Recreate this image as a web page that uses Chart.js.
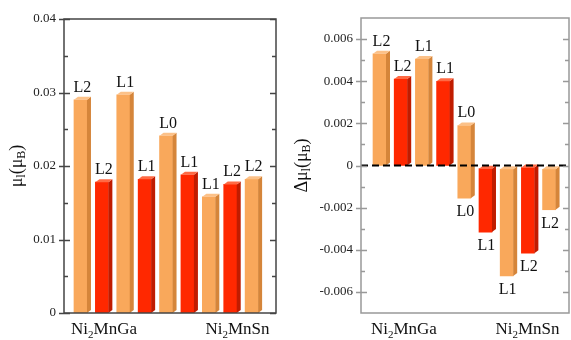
<!DOCTYPE html>
<html>
<head>
<meta charset="utf-8">
<script src="https://cdn.jsdelivr.net/npm/chart.js@4.4.1/dist/chart.umd.min.js"></script>
<style>
  html, body { margin: 0; padding: 0; background: #fff; }
  #wrap { position: relative; width: 571px; height: 340px; }
  canvas { position: absolute; top: 0; }
  #left { left: 0; }
  #right { left: 290px; }
</style>
</head>
<body>
<div id="wrap">
  <canvas id="left" width="290" height="340"></canvas>
  <canvas id="right" width="281" height="340"></canvas>
</div>
<script>
// compounds shown under each panel
const compounds = ["Ni2MnGa", "Ni2MnSn"];

// left panel: moment per site
const leftTags = ["L2", "L2", "L1", "L1", "L0", "L1", "L1", "L2", "L2"];
const leftValues = [0.029, 0.0178, 0.0297, 0.0182, 0.0241, 0.0188, 0.0158, 0.0175, 0.0182];
const leftTicks = [0, 0.01, 0.02, 0.03, 0.04];

// right panel: change of moment, drawn as floating bars [low, high]
const rightTopTags = ["L2", "L2", "L1", "L1", "L0", null, null, null, null];
const rightBottomTags = [null, null, null, null, "L0", "L1", "L1", "L2", "L2"];
const rightLow = [0, 0, 0, 0, -0.00155, -0.00015, -0.00018, -0.0001, -0.00018];
const rightHigh = [0.0053, 0.0041, 0.00505, 0.004, 0.0019, -0.00316, -0.00524, -0.00416, -0.0021];
const rightTicks = [-0.006, -0.004, -0.002, 0, 0.002, 0.004, 0.006];

const SERIF = "'Liberation Serif', 'Times New Roman', serif";
const ORANGE = { front: "#f9a85b", side: "#d5853a", top: "#fcc188" };
const RED = { front: "#ff2800", side: "#c01c00", top: "#ff6a44" };

function kindOf(i) {
  return i % 2 === 0 ? ORANGE : RED;
}

// text runs: [string, isSubscript]
function richRuns(text) {
  return text.split(/(\d)/).filter(Boolean).map(s => [s, /\d/.test(s)]);
}

function drawRich(ctx, runs, x, y, size, subSize, align) {
  const widths = runs.map(([s, sub]) => {
    ctx.font = `${sub ? subSize : size}px ${SERIF}`;
    return ctx.measureText(s).width;
  });
  const total = widths.reduce((a, b) => a + b, 0);
  let cx = align === "center" ? x - total / 2 : x;
  runs.forEach(([s, sub], i) => {
    ctx.font = `${sub ? subSize : size}px ${SERIF}`;
    ctx.fillText(s, cx, sub ? y + size * 0.25 : y);
    cx += widths[i];
  });
}

const decor = {
  id: "decor",
  afterDatasetsDraw(chart, args, opts) {
    const ctx = chart.ctx;
    const meta = chart.getDatasetMeta(0);
    const dx = 4, dy = 3;
    ctx.save();
    // side and top faces of each bar
    meta.data.forEach((bar, i) => {
      const { x, y, base, width } = bar.getProps(["x", "y", "base", "width"], true);
      const l = x - width / 2, r = x + width / 2;
      const top = Math.min(y, base), bottom = Math.max(y, base);
      const c = kindOf(i);
      ctx.fillStyle = c.side;
      ctx.beginPath();
      ctx.moveTo(r, top); ctx.lineTo(r + dx, top - dy);
      ctx.lineTo(r + dx, bottom - dy); ctx.lineTo(r, bottom);
      ctx.closePath(); ctx.fill();
      ctx.fillStyle = c.top;
      ctx.beginPath();
      ctx.moveTo(l, top); ctx.lineTo(l + dx, top - dy);
      ctx.lineTo(r + dx, top - dy); ctx.lineTo(r, top);
      ctx.closePath(); ctx.fill();
    });

    // site tags above / below the bars
    ctx.fillStyle = "#111";
    ctx.font = `16px ${SERIF}`;
    ctx.textAlign = "center";
    ctx.textBaseline = "alphabetic";
    meta.data.forEach((bar, i) => {
      const { x, y, base } = bar.getProps(["x", "y", "base"], true);
      const top = Math.min(y, base), bottom = Math.max(y, base);
      if (opts.topTags && opts.topTags[i]) ctx.fillText(opts.topTags[i], x + 2, top - 8);
      if (opts.bottomTags && opts.bottomTags[i]) ctx.fillText(opts.bottomTags[i], x + 1, bottom + 18);
    });

    // dashed zero line
    if (opts.zeroLine) {
      const a = chart.chartArea;
      const y0 = chart.scales.y.getPixelForValue(0);
      ctx.strokeStyle = "#000";
      ctx.lineWidth = 2;
      ctx.setLineDash([7, 4]);
      ctx.beginPath();
      ctx.moveTo(a.left, y0);
      ctx.lineTo(a.right, y0);
      ctx.stroke();
      ctx.setLineDash([]);
    }
    ctx.restore();
  },
  afterDraw(chart, args, opts) {
    const ctx = chart.ctx;
    const a = chart.chartArea;
    const ys = chart.scales.y;
    const xs = chart.scales.x;
    ctx.save();
    ctx.strokeStyle = opts.frameColor;
    ctx.lineWidth = 1.5;
    ctx.strokeRect(a.left, a.top, a.right - a.left, a.bottom - a.top);

    // major ticks cross the left edge, point inward on the right
    const majors = ys.ticks.map(t => t.value);
    ctx.beginPath();
    majors.forEach(v => {
      const p = Math.round(ys.getPixelForValue(v)) + 0.5;
      ctx.moveTo(a.left - 5, p); ctx.lineTo(a.left + 6, p);
      ctx.moveTo(a.right - 6, p); ctx.lineTo(a.right, p);
    });
    for (let k = 0; k < majors.length - 1; k++) {
      const p = Math.round(ys.getPixelForValue((majors[k] + majors[k + 1]) / 2)) + 0.5;
      ctx.moveTo(a.left, p); ctx.lineTo(a.left + 4, p);
      ctx.moveTo(a.right - 4, p); ctx.lineTo(a.right, p);
    }
    ctx.stroke();

    // compound names under the frame
    ctx.fillStyle = "#111";
    ctx.textAlign = "left";
    ctx.textBaseline = "alphabetic";
    compounds.forEach((name, i) => {
      drawRich(ctx, richRuns(name), xs.getPixelForValue(opts.groupAt[i]), 334, 17, 11, "center");
    });

    // rotated axis title
    ctx.translate(opts.titleX, (a.top + a.bottom) / 2);
    ctx.rotate(-Math.PI / 2);
    ctx.textBaseline = "middle";
    drawRich(ctx, opts.title, 0, 0, 18, 12, "center");
    ctx.restore();
  }
};

function makeChart(id, cfg) {
  const data = cfg.values.map((v, i) => ({ x: i + 1, y: v }));
  return new Chart(document.getElementById(id), {
    type: "bar",
    data: {
      datasets: [{
        data,
        backgroundColor: cfg.values.map((v, i) => kindOf(i).front),
        borderWidth: 0,
        barThickness: 13,
      }],
    },
    options: {
      responsive: false,
      animation: false,
      layout: { padding: { left: 0, right: cfg.padRight, top: cfg.padTop, bottom: 27 } },
      plugins: {
        legend: { display: false },
        tooltip: { enabled: false },
        decor: cfg.decor,
      },
      scales: {
        x: {
          type: "linear",
          display: false,
          offset: false,
          grid: { offset: false },
          min: cfg.xMin,
          max: cfg.xMax,
        },
        y: {
          min: cfg.yMin,
          max: cfg.yMax,
          grid: { display: false, drawTicks: false },
          border: { display: false },
          ticks: {
            padding: 8,
            color: "#222",
            font: { family: SERIF, size: 13 },
            callback: v => String(v),
          },
          afterBuildTicks: s => { s.ticks = cfg.ticks.map(v => ({ value: v })); },
          afterFit: s => { s.width = cfg.axisWidth; },
        },
      },
    },
    plugins: [decor],
  });
}

makeChart("left", {
  values: leftValues,
  ticks: leftTicks,
  yMin: 0, yMax: 0.04,
  xMin: 0.23, xMax: 10.14,
  axisWidth: 64, padRight: 14, padTop: 19,
  decor: {
    frameColor: "#444",
    topTags: leftTags,
    groupAt: [2.1, 8.34],
    titleX: 17,
    title: [["μ", false], ["l", true], ["(μ", false], ["B", true], [")", false]],
  },
});

makeChart("right", {
  values: rightLow.map((lo, i) => [lo, rightHigh[i]]),
  ticks: rightTicks,
  yMin: -0.007, yMax: 0.007,
  xMin: 0.127, xMax: 9.94,
  axisWidth: 71, padRight: 2, padTop: 18,
  decor: {
    frameColor: "#999",
    topTags: rightTopTags,
    bottomTags: rightBottomTags,
    zeroLine: true,
    groupAt: [2.15, 7.98],
    titleX: 12,
    title: [["Δμ", false], ["l", true], ["(μ", false], ["B", true], [")", false]],
  },
});
</script>
</body>
</html>
